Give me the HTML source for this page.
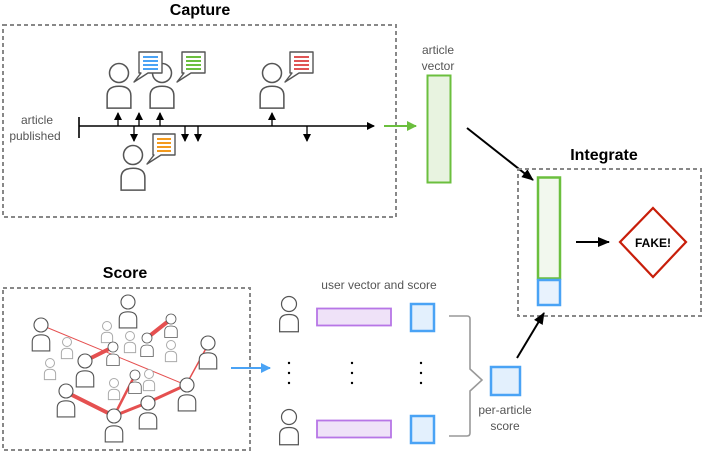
<!DOCTYPE html>
<html><head><meta charset="utf-8"><style>
html,body{margin:0;padding:0;background:#fff;}
svg{display:block;font-family:"Liberation Sans",sans-serif;}
</style></head><body>
<svg width="706" height="456" viewBox="0 0 706 456" xmlns="http://www.w3.org/2000/svg">
<defs>
<g id="u">
<circle cx="0" cy="0" r="10" fill="#fff" stroke="#555" stroke-width="1.6"/>
<path d="M-12.5 37 L-12.5 24 Q-12.5 14 0 14 Q12.5 14 12.5 24 L12.5 37 Z" fill="#fff" stroke="#555" stroke-width="1.6"/>
</g>
<g id="ug">
<circle cx="0" cy="0" r="10" fill="#fff" stroke="#aaa" stroke-width="2.2"/>
<path d="M-12.5 37 L-12.5 24 Q-12.5 14 0 14 Q12.5 14 12.5 24 L12.5 37 Z" fill="#fff" stroke="#aaa" stroke-width="2.2"/>
</g>
<marker id="ab" markerWidth="8" markerHeight="8" refX="7" refY="4" orient="auto" markerUnits="userSpaceOnUse"><path d="M0 0 L8 4 L0 8 Z" fill="#000"/></marker>
<marker id="ag" markerWidth="10" markerHeight="10" refX="9" refY="5" orient="auto" markerUnits="userSpaceOnUse"><path d="M0 0 L10 5 L0 10 Z" fill="#6bbf3e"/></marker>
<marker id="abl" markerWidth="10" markerHeight="10" refX="9" refY="5" orient="auto" markerUnits="userSpaceOnUse"><path d="M0 0 L10 5 L0 10 Z" fill="#4aa3f5"/></marker>
<marker id="ak" markerWidth="12" markerHeight="10" refX="11" refY="5" orient="auto" markerUnits="userSpaceOnUse"><path d="M0 0 L12 5 L0 10 Z" fill="#000"/></marker>
</defs>

<!-- Capture -->
<text x="200" y="15" font-size="16" font-weight="bold" text-anchor="middle">Capture</text>
<rect x="3" y="25" width="393" height="192" fill="none" stroke="#888" stroke-width="2" stroke-dasharray="4 3"/>
<text x="37" y="124" font-size="12" fill="#555" text-anchor="middle">article</text>
<text x="35" y="140" font-size="12" fill="#555" text-anchor="middle">published</text>
<line x1="79" y1="117" x2="79" y2="138" stroke="#000" stroke-width="1.6"/>
<line x1="79" y1="126" x2="374" y2="126" stroke="#000" stroke-width="1.5" marker-end="url(#ab)"/>
<g stroke="#000" stroke-width="1.3">
<line x1="118" y1="126" x2="118" y2="113" marker-end="url(#ab)"/>
<line x1="139" y1="126" x2="139" y2="113" marker-end="url(#ab)"/>
<line x1="160" y1="126" x2="160" y2="113" marker-end="url(#ab)"/>
<line x1="272" y1="126" x2="272" y2="113" marker-end="url(#ab)"/>
<line x1="134" y1="126" x2="134" y2="141" marker-end="url(#ab)"/>
<line x1="185" y1="126" x2="185" y2="141" marker-end="url(#ab)"/>
<line x1="198" y1="126" x2="198" y2="141" marker-end="url(#ab)"/>
<line x1="307" y1="126" x2="307" y2="141" marker-end="url(#ab)"/>
</g>
<!-- capture users -->
<use href="#u" transform="translate(119,73) scale(0.95)"/>
<use href="#u" transform="translate(162,73) scale(0.95)"/>
<use href="#u" transform="translate(272,73) scale(0.95)"/>
<use href="#u" transform="translate(133,155) scale(0.95)"/>
<!-- bubbles -->
<g stroke="#555" stroke-width="1.4" fill="#fff">
<path d="M139 52 h23 v21 h-14 l-14 9 l7 -9 h-2 z" stroke-linejoin="round"/>
<path d="M182 52 h23 v21 h-14 l-14 9 l7 -9 h-2 z" stroke-linejoin="round"/>
<path d="M290 52 h23 v21 h-14 l-14 9 l7 -9 h-2 z" stroke-linejoin="round"/>
<path d="M153 134 h22 v21 h-14 l-14 9 l7 -9 h-1 z" stroke-linejoin="round"/>
</g>
<g stroke-width="2">
<g stroke="#4aa3f5"><line x1="143" y1="57" x2="158" y2="57"/><line x1="143" y1="61" x2="158" y2="61"/><line x1="143" y1="65" x2="158" y2="65"/><line x1="143" y1="69" x2="158" y2="69"/></g>
<g stroke="#6bbf3e"><line x1="186" y1="57" x2="201" y2="57"/><line x1="186" y1="61" x2="201" y2="61"/><line x1="186" y1="65" x2="201" y2="65"/><line x1="186" y1="69" x2="201" y2="69"/></g>
<g stroke="#e05555"><line x1="294" y1="57" x2="309" y2="57"/><line x1="294" y1="61" x2="309" y2="61"/><line x1="294" y1="65" x2="309" y2="65"/><line x1="294" y1="69" x2="309" y2="69"/></g>
<g stroke="#f39a1e"><line x1="157" y1="139" x2="171" y2="139"/><line x1="157" y1="143" x2="171" y2="143"/><line x1="157" y1="147" x2="171" y2="147"/><line x1="157" y1="151" x2="171" y2="151"/></g>
</g>
<line x1="384" y1="126" x2="416" y2="126" stroke="#6bbf3e" stroke-width="2" marker-end="url(#ag)"/>

<!-- article vector -->
<text x="438" y="54" font-size="12" fill="#555" text-anchor="middle">article</text>
<text x="438" y="70" font-size="12" fill="#555" text-anchor="middle">vector</text>
<rect x="427.5" y="75.5" width="23" height="107" fill="#e8f3e0" stroke="#6bbf3e" stroke-width="2"/>
<line x1="467" y1="128" x2="533" y2="180" stroke="#000" stroke-width="2" marker-end="url(#ak)"/>

<!-- Integrate -->
<text x="604" y="160" font-size="16" font-weight="bold" text-anchor="middle">Integrate</text>
<rect x="518" y="169" width="183" height="147" fill="none" stroke="#888" stroke-width="2" stroke-dasharray="4 3"/>
<rect x="538" y="177.5" width="22" height="101" fill="#f2f8ee" stroke="#6bbf3e" stroke-width="2.5"/>
<rect x="538" y="280" width="22" height="25" fill="#e8f2fd" stroke="#4aa3f5" stroke-width="2.5"/>
<line x1="576" y1="242" x2="609" y2="242" stroke="#000" stroke-width="2" marker-end="url(#ak)"/>
<polygon points="653,208 686,242 653,277 620,242" fill="#fff" stroke="#c81e0a" stroke-width="2.2"/>
<text x="653" y="247" font-size="12" font-weight="bold" text-anchor="middle">FAKE!</text>

<!-- Score -->
<text x="125" y="278" font-size="16" font-weight="bold" text-anchor="middle">Score</text>
<rect x="3" y="288" width="247" height="162" fill="none" stroke="#888" stroke-width="2" stroke-dasharray="4 3"/>
<g stroke="#e55050" stroke-linecap="round">
<line x1="41" y1="325" x2="186" y2="385" stroke-width="1"/>
<line x1="85" y1="361" x2="113" y2="347" stroke-width="4"/>
<line x1="147" y1="338" x2="171" y2="319" stroke-width="4"/>
<line x1="66" y1="392" x2="114" y2="416" stroke-width="4"/>
<line x1="114" y1="416" x2="135" y2="375" stroke-width="2.5"/>
<line x1="114" y1="416" x2="149" y2="402" stroke-width="3"/>
<line x1="149" y1="402" x2="186" y2="385" stroke-width="3"/>
<line x1="186" y1="385" x2="209" y2="343" stroke-width="1.5"/>
</g>
<use href="#ug" transform="translate(107,326) scale(0.45)"/>
<use href="#ug" transform="translate(67,342) scale(0.45)"/>
<use href="#ug" transform="translate(50,363) scale(0.45)"/>
<use href="#ug" transform="translate(130,336) scale(0.45)"/>
<use href="#ug" transform="translate(171,345) scale(0.45)"/>
<use href="#ug" transform="translate(114,383) scale(0.45)"/>
<use href="#ug" transform="translate(149,374) scale(0.45)"/>
<use href="#u" transform="translate(41,325) scale(0.7)"/>
<use href="#u" transform="translate(128,302) scale(0.7)"/>
<use href="#u" transform="translate(171,319) scale(0.5)"/>
<use href="#u" transform="translate(147,338) scale(0.5)"/>
<use href="#u" transform="translate(113,347) scale(0.5)"/>
<use href="#u" transform="translate(85,361) scale(0.7)"/>
<use href="#u" transform="translate(208,343) scale(0.7)"/>
<use href="#u" transform="translate(135,375) scale(0.5)"/>
<use href="#u" transform="translate(66,391) scale(0.7)"/>
<use href="#u" transform="translate(114,416) scale(0.7)"/>
<use href="#u" transform="translate(148,403) scale(0.7)"/>
<use href="#u" transform="translate(187,385) scale(0.7)"/>
<line x1="231" y1="368" x2="270" y2="368" stroke="#4aa3f5" stroke-width="2" marker-end="url(#abl)"/>

<!-- user vectors -->
<text x="379" y="289" font-size="12" fill="#555" text-anchor="middle">user vector and score</text>
<use href="#u" transform="translate(289,304) scale(0.75)"/>
<use href="#u" transform="translate(289,417) scale(0.75)"/>
<rect x="317" y="308.5" width="74" height="17" fill="#efe2f8" stroke="#b776e6" stroke-width="1.8"/>
<rect x="317" y="420.5" width="74" height="17" fill="#efe2f8" stroke="#b776e6" stroke-width="1.8"/>
<rect x="411" y="304" width="23" height="27" fill="#e3f0fd" stroke="#4aa3f5" stroke-width="2.5"/>
<rect x="411" y="416" width="23" height="27" fill="#e3f0fd" stroke="#4aa3f5" stroke-width="2.5"/>
<g fill="#000">
<circle cx="289" cy="363" r="1.2"/><circle cx="289" cy="373" r="1.2"/><circle cx="289" cy="383" r="1.2"/>
<circle cx="352" cy="363" r="1.2"/><circle cx="352" cy="373" r="1.2"/><circle cx="352" cy="383" r="1.2"/>
<circle cx="421" cy="363" r="1.2"/><circle cx="421" cy="373" r="1.2"/><circle cx="421" cy="383" r="1.2"/>
</g>
<path d="M449 316 H467 Q470 316 470 319 V369 L482 380 L470 391 V433 Q470 436 467 436 H449" fill="none" stroke="#999" stroke-width="1.6"/>
<rect x="491" y="367" width="29" height="28" fill="#e3f0fd" stroke="#4aa3f5" stroke-width="2.5"/>
<text x="505" y="414" font-size="12" fill="#555" text-anchor="middle">per-article</text>
<text x="505" y="430" font-size="12" fill="#555" text-anchor="middle">score</text>
<line x1="517" y1="358" x2="544" y2="313" stroke="#000" stroke-width="2" marker-end="url(#ak)"/>
</svg>
</body></html>
